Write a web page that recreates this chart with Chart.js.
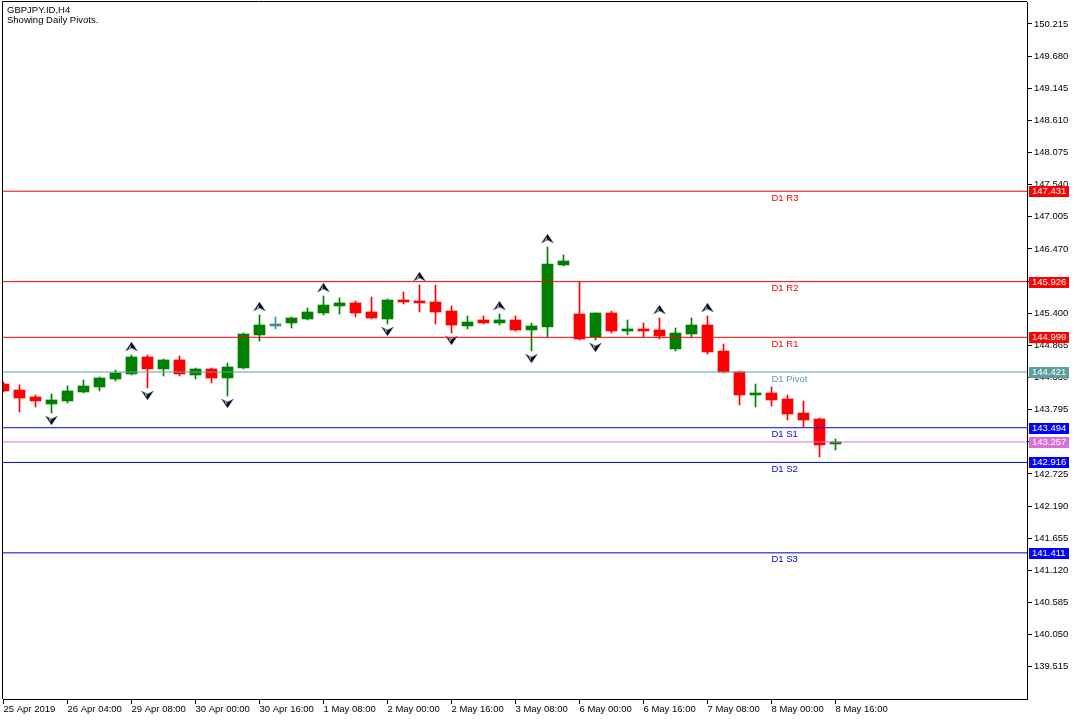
<!DOCTYPE html>
<html>
<head>
<meta charset="utf-8">
<script src="https://cdn.jsdelivr.net/npm/chart.js@4/dist/chart.umd.min.js"></script>
<style>
html,body{margin:0;padding:0;background:#fff;overflow:hidden;}
canvas{display:block;}
</style>
</head>
<body>
<canvas id="c" width="1080" height="720"></canvas>
<script>
// ---------------- DATA ----------------
const symbolTitle = 'GBPJPY.ID,H4';
const subTitle = 'Showing Daily Pivots.';

const opens  = [144.222,144.122,144.006,143.889,143.939,144.089,144.172,144.305,144.389,144.672,
                144.472,144.622,144.372,144.472,144.322,144.489,145.038,145.188,145.238,145.304,
                145.404,145.521,145.571,145.421,145.304,145.620,145.604,145.587,145.437,145.188,
                145.288,145.238,145.288,145.121,145.171,146.203,145.387,145.005,145.404,145.104,
                145.138,145.121,144.805,145.054,145.204,144.771,144.422,144.039,144.072,143.973,
                143.739,143.640,143.223];
const highs  = [144.255,144.206,144.039,144.056,144.189,144.289,144.339,144.455,144.705,144.705,
                144.638,144.688,144.489,144.489,144.572,145.071,145.371,145.337,145.337,145.487,
                145.687,145.654,145.604,145.670,145.637,145.754,145.870,145.870,145.521,145.354,
                145.354,145.387,145.354,145.238,146.503,146.370,145.920,145.404,145.437,145.288,
                145.238,145.321,145.154,145.321,145.354,144.888,144.438,144.222,144.172,144.039,
                143.939,143.656,143.307];
const lows   = [144.089,143.756,143.839,143.739,143.906,144.072,144.106,144.272,144.372,144.156,
                144.355,144.355,144.305,144.239,144.022,144.472,144.938,145.138,145.154,145.288,
                145.371,145.387,145.337,145.304,145.221,145.554,145.421,145.221,145.071,145.138,
                145.221,145.204,145.104,144.771,145.005,146.186,144.955,144.955,145.071,145.038,
                145.005,144.971,144.771,145.005,144.722,144.405,143.873,143.839,143.856,143.623,
                143.506,143.007,143.124];
const closes = [144.106,143.989,143.939,143.956,144.106,144.189,144.322,144.405,144.672,144.472,
                144.622,144.389,144.472,144.322,144.505,145.054,145.204,145.188,145.321,145.421,
                145.537,145.571,145.404,145.321,145.620,145.587,145.571,145.421,145.204,145.254,
                145.238,145.288,145.121,145.188,146.220,146.270,144.971,145.404,145.104,145.138,
                145.104,145.021,145.071,145.204,144.755,144.422,144.039,144.072,143.956,143.723,
                143.623,143.207,143.257];

const timeLabelBars = [0,4,8,12,16,20,24,28,32,36,40,44,48,52];
const timeLabels = ['25 Apr 2019','26 Apr 04:00','29 Apr 08:00','30 Apr 00:00','30 Apr 16:00',
                    '1 May 08:00','2 May 00:00','2 May 16:00','3 May 08:00','6 May 00:00',
                    '6 May 16:00','7 May 08:00','8 May 00:00','8 May 16:00'];

const priceTicks = [139.515,140.050,140.585,141.120,141.655,142.190,142.725,143.260,143.795,
                    144.330,144.865,145.400,145.935,146.470,147.005,147.540,148.075,148.610,
                    149.145,149.680,150.215];

const pivotNames  = ['D1 R3','D1 R2','D1 R1','D1 Pivot','D1 S1','D1 S2','D1 S3'];
const pivotValues = [147.431,145.926,144.999,144.421,143.494,142.916,141.411];
const bidPrice = closes[closes.length - 1];

const upFractalBars   = [8,16,20,26,31,34,41,44];
const downFractalBars = [3,9,14,24,28,33,37];
const dojiBars = [17];

// ---------------- STYLE ----------------
const FONT_FAMILY = "'Liberation Sans', Arial, sans-serif";
const FONT_SIZE = 9.5;
const FONT = FONT_SIZE + 'px ' + FONT_FAMILY;
const UP_COLOR = '#008000', DOWN_COLOR = '#ff0000', DOJI_COLOR = '#3c9090';
const pivotLineColors = ['#ff0000','#ff0000','#ff0000','#5f9ea0','#0000ff','#0000ff','#0000cd'];
const pivotBoxColors  = ['#ff0000','#ff0000','#ff0000','#5f9ea0','#0000ff','#0000ff','#0000ff'];
const BID_COLOR = '#da70d6';
const pivotLabelBar = 48;
const Y_MIN = 138.978, Y_MAX = 150.581;
const X_MIN = -0.03125, X_MAX = 63.96875;

function candleColor(i) {
  if (dojiBars.includes(i)) return DOJI_COLOR;
  return closes[i] >= opens[i] ? UP_COLOR : DOWN_COLOR;
}
const colors = opens.map((o, i) => candleColor(i));

function makeArrow(up) {
  const w = 13, h = up ? 28 : 26;
  const c = document.createElement('canvas');
  c.width = w; c.height = h;
  const g = c.getContext('2d');
  const cx = 6.5;
  const tipY = up ? 1 : 25, baseY = up ? 10 : 16, notchY = up ? 7 : 19;
  g.beginPath();
  g.moveTo(cx, tipY); g.lineTo(12.5, baseY); g.lineTo(cx, notchY); g.lineTo(0.5, baseY); g.closePath();
  g.fillStyle = '#0a0a0a'; g.fill();
  g.beginPath();
  g.moveTo(cx - 0.8, tipY + (up ? 3 : -3)); g.lineTo(cx - 0.8, notchY + (up ? -0.5 : 0.5)); g.lineTo(3, baseY + (up ? -1 : 1)); g.closePath();
  g.fillStyle = '#eef3fb'; g.fill();
  g.beginPath();
  g.moveTo(cx, tipY); g.lineTo(12.5, baseY); g.lineTo(cx, notchY); g.lineTo(0.5, baseY); g.closePath();
  g.strokeStyle = 'rgba(90,130,190,0.7)'; g.lineWidth = 0.7; g.stroke();
  return c;
}
const upArrowImg = makeArrow(true);
const downArrowImg = makeArrow(false);

// ---------------- DATASETS ----------------
const levelDatasets = pivotValues.map((v, i) => ({
  type: 'line', label: pivotNames[i],
  data: [{x: X_MIN, y: v}, {x: X_MAX, y: v}],
  borderColor: pivotLineColors[i], borderWidth: 1, pointRadius: 0, tension: 0, order: 0
}));
levelDatasets.push({
  type: 'line', label: 'Bid',
  data: [{x: X_MIN, y: bidPrice}, {x: X_MAX, y: bidPrice}],
  borderColor: BID_COLOR, borderWidth: 1, pointRadius: 0, tension: 0, order: 0
});

const datasets = [
  {
    type: 'bar', label: 'wicks',
    data: lows.map((l, i) => ({x: i, y: [l, highs[i]]})),
    backgroundColor: colors, borderWidth: 0, barThickness: 1, grouped: false, order: 3
  },
  {
    type: 'bar', label: 'bodies',
    data: opens.map((o, i) => ({x: i, y: [o, closes[i]]})),
    backgroundColor: colors, borderWidth: 0, barThickness: 11, minBarLength: 2, grouped: false, order: 2
  },
  ...levelDatasets,
  {
    type: 'line', label: 'upFractals', showLine: false,
    data: upFractalBars.map(k => ({x: k, y: highs[k]})),
    pointStyle: upArrowImg, pointRadius: 6, order: 1
  },
  {
    type: 'line', label: 'downFractals', showLine: false,
    data: downFractalBars.map(k => ({x: k, y: lows[k]})),
    pointStyle: downArrowImg, pointRadius: 6, order: 1
  }
];

// ---------------- PLUGIN ----------------
const decor = {
  id: 'decor',
  beforeDraw(chart) {
    const ctx = chart.ctx;
    ctx.save(); ctx.fillStyle = '#fff'; ctx.fillRect(0, 0, chart.width, chart.height); ctx.restore();
  },
  afterDraw(chart) {
    const {ctx, chartArea: a, scales: {x, y}} = chart;
    ctx.save();
    // frame (left and top)
    ctx.strokeStyle = '#000'; ctx.lineWidth = 1;
    ctx.beginPath();
    ctx.moveTo(a.left - 0.5, a.bottom);
    ctx.lineTo(a.left - 0.5, a.top - 0.5);
    ctx.lineTo(a.right, a.top - 0.5);
    ctx.stroke();
    // titles
    ctx.font = FONT; ctx.fillStyle = '#000'; ctx.textAlign = 'left'; ctx.textBaseline = 'alphabetic';
    ctx.fillText(symbolTitle, 7, 12.5);
    ctx.fillText(subTitle, 7, 23);
    // level labels
    const lx = x.getPixelForValue(pivotLabelBar);
    pivotNames.forEach((n, i) => {
      const py = y.getPixelForValue(pivotValues[i]);
      ctx.fillStyle = pivotLineColors[i];
      ctx.fillText(n, lx, py + 9.5);
    });
    // price boxes on the axis
    const boxes = pivotValues.map((v, i) => ({v, c: pivotBoxColors[i]}));
    boxes.push({v: bidPrice, c: BID_COLOR});
    ctx.textBaseline = 'middle';
    boxes.forEach(b => {
      const py = Math.round(y.getPixelForValue(b.v));
      ctx.fillStyle = b.c;
      ctx.fillRect(a.right + 2, py - 5, 40, 11);
      ctx.fillStyle = '#fff';
      ctx.fillText(b.v.toFixed(3), a.right + 5, py + 0.5);
    });
    ctx.restore();
  }
};

Chart.defaults.font.family = FONT_FAMILY;
Chart.defaults.font.size = FONT_SIZE;
Chart.defaults.color = '#000';

new Chart(document.getElementById('c'), {
  type: 'bar',
  data: { datasets },
  options: {
    responsive: false,
    animation: false,
    events: [],
    layout: { padding: { left: 3, top: 2, right: 0, bottom: 0 }, autoPadding: false },
    plugins: { legend: { display: false }, tooltip: { enabled: false }, title: { display: false } },
    scales: {
      x: {
        type: 'linear', min: X_MIN, max: X_MAX, offset: false,
        grid: { display: true, drawOnChartArea: false, drawTicks: true, tickLength: 5, color: '#000', offset: false },
        border: { display: true, color: '#000', width: 1 },
        ticks: {
          autoSkip: false, maxRotation: 0, minRotation: 0, align: 'start', padding: 0, color: '#000',
          callback: (v) => { const i = timeLabelBars.indexOf(v); return i >= 0 ? timeLabels[i] : ''; }
        },
        afterBuildTicks: (s) => { s.ticks = timeLabelBars.map(v => ({value: v})); },
        afterFit: (s) => { s.height = 21; s.paddingLeft = 0; s.paddingRight = 0; s.paddingTop = 0; s.paddingBottom = 0; }
      },
      y: {
        type: 'linear', position: 'right', min: Y_MIN, max: Y_MAX,
        grid: { display: true, drawOnChartArea: false, drawTicks: true, tickLength: 5, color: '#000' },
        border: { display: true, color: '#000', width: 1 },
        ticks: { padding: 2, color: '#000', crossAlign: 'near', autoSkip: false,
          callback: (v) => Number(v).toFixed(3) },
        afterBuildTicks: (s) => { s.ticks = priceTicks.map(v => ({value: v})); },
        afterFit: (s) => { s.width = 53; s.paddingLeft = 0; s.paddingRight = 0; s.paddingTop = 0; s.paddingBottom = 0; }
      }
    }
  },
  plugins: [decor]
});
</script>
</body>
</html>
